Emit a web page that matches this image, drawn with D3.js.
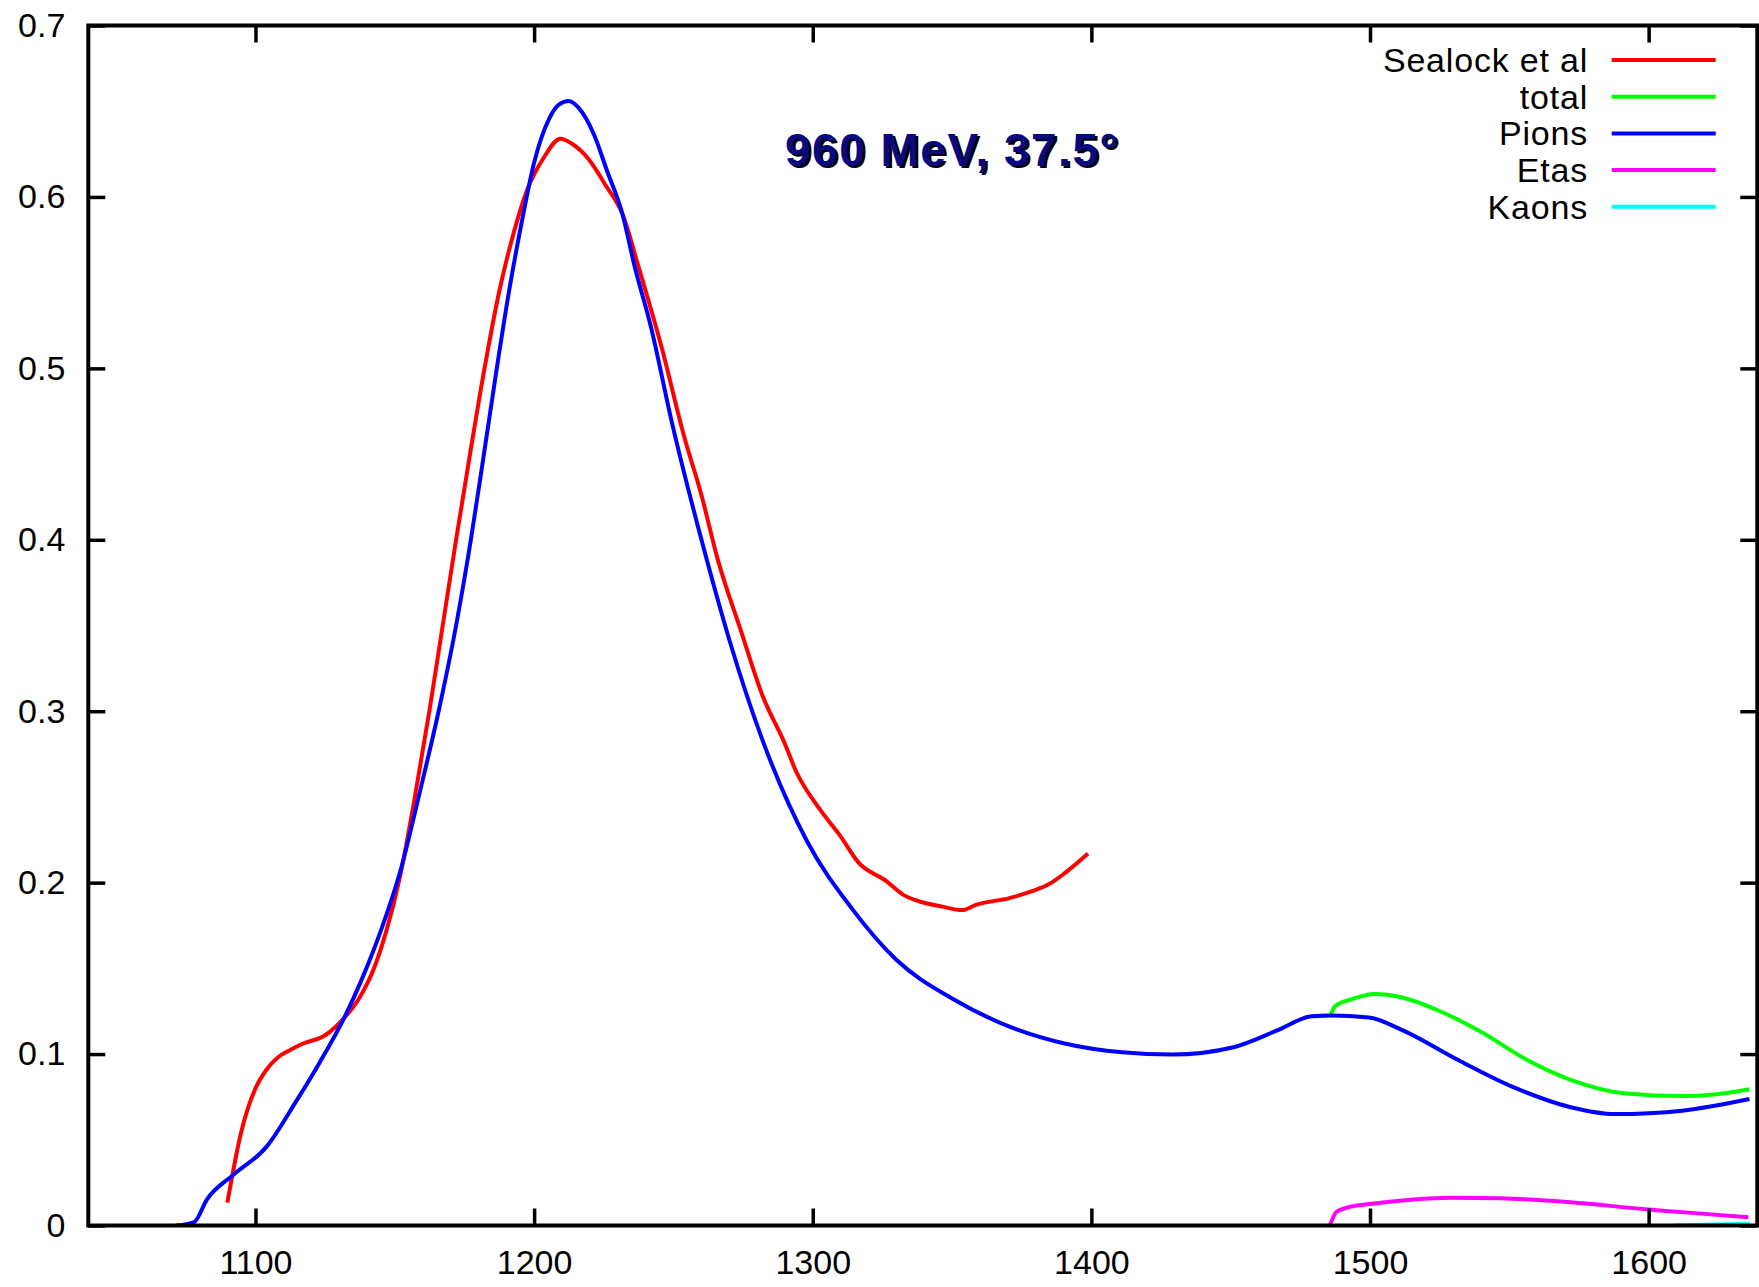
<!DOCTYPE html>
<html><head><meta charset="utf-8">
<script src="https://cdn.jsdelivr.net/npm/d3@7"></script>
<style>body{margin:0;background:#fff}svg{display:block}</style>
</head><body>
<svg id="c" width="1759" height="1287"></svg>
<script>
const xTicks=[1100,1200,1300,1400,1500,1600];
const yTicks=[0,0.1,0.2,0.3,0.4,0.5,0.6,0.7];
const seriesNames=["Sealock et al","total","Pions","Etas","Kaons"];
const seriesColors=["#ff0000","#00ff00","#0000ff","#ff00ff","#00ffff"];
const titleText="960 MeV, 37.5°";

const sealockX=[1089.9,1094.8,1100,1104,1108,1112,1116.9,1125,1131.8,1137,1143,1147,1151.8,1157,1162.4,1167.2,1172,1177,1182.2,1187.5,1192,1197.5,1203.5,1209.5,1213.6,1219.6,1225.6,1231.7,1237.7,1245.8,1253.9,1259.9,1266,1274,1282,1290,1294,1302,1310,1316.3,1326.3,1332.4,1338.4,1346.5,1353.7,1358.5,1370.6,1378.7,1384.7,1390.8,1398.8];
const sealockY=[0.0133,0.054,0.080,0.091,0.098,0.102,0.106,0.111,0.121,0.132,0.152,0.172,0.203,0.248,0.3,0.35,0.4,0.45,0.5,0.545,0.575,0.604,0.623,0.634,0.631,0.622,0.607,0.590,0.558,0.512,0.460,0.427,0.388,0.348,0.309,0.281,0.265,0.244,0.227,0.212,0.201,0.193,0.189,0.186,0.184,0.187,0.191,0.195,0.199,0.206,0.217];

const totalX=[1479,1485.4,1487.5,1493.5,1501.5,1511.6,1523.7,1539.8,1555.9,1572,1592,1612,1624.4,1636.2];
const totalY=[0.122,0.1225,0.128,0.132,0.135,0.133,0.126,0.113,0.097,0.085,0.077,0.0755,0.0766,0.0795];

const pionsX=[1071.5,1078,1082.5,1092,1104,1114.8,1123,1131.8,1138,1145,1152.2,1159,1166,1172,1177.3,1182,1186.6,1191,1195.4,1200,1205.5,1209,1212.4,1216,1221.6,1226,1231.7,1236,1241.8,1249.8,1259.9,1270,1282,1298,1314,1330,1350.5,1370.6,1390.8,1411,1429,1451,1467,1479,1486,1499.5,1511.6,1531.8,1551.9,1572,1588,1600,1612,1636.2];
const pionsY=[0,0.002,0.015,0.0295,0.046,0.073,0.095,0.121,0.143,0.172,0.208,0.253,0.302,0.35,0.4,0.45,0.5,0.545,0.584,0.62,0.646,0.654,0.656,0.652,0.636,0.616,0.59,0.56,0.525,0.466,0.401,0.342,0.283,0.224,0.185,0.155,0.132,0.116,0.106,0.101,0.0997,0.104,0.114,0.122,0.1225,0.1214,0.114,0.0964,0.0804,0.069,0.065,0.0655,0.067,0.0738];

const etasX=[1485.6,1488,1492,1500,1515.6,1528.8,1546.8,1572,1600,1612,1635.8];
const etasY=[0,0.008,0.0105,0.0125,0.0152,0.0162,0.0159,0.0136,0.0093,0.0078,0.0048];

const kaonsX=[1609,1620,1636.2];
const kaonsY=[0,0.0005,0.001];

const L=88.3,R=1757.3,T=25.5,B=1225.5;
const x=d3.scaleLinear().domain([1040,1639]).range([L,R]);
const y=d3.scaleLinear().domain([0,0.7]).range([B,T]);
const svg=d3.select("#c");
const font="'Liberation Sans', Arial, sans-serif";

svg.append("defs").append("clipPath").attr("id","clip").append("rect")
  .attr("x",L).attr("y",T).attr("width",R-L).attr("height",B-T);

const series=[[sealockX,sealockY],[totalX,totalY],[pionsX,pionsY],[etasX,etasY],[kaonsX,kaonsY]];
const g=svg.append("g").attr("clip-path","url(#clip)");
series.forEach((s,i)=>{
  const pts=s[0].map((v,j)=>[v,s[1][j]]);
  const line=d3.line().x(d=>x(d[0])).y(d=>y(d[1])).curve(d3.curveMonotoneX);
  g.append("path").datum(pts).attr("d",line).attr("fill","none")
    .attr("stroke",seriesColors[i]).attr("stroke-width",4).attr("stroke-linejoin","round");
});

function styleAxis(sel){
  sel.select(".domain").remove();
  sel.selectAll(".tick line").attr("stroke","#000").attr("stroke-width",3.5);
  sel.selectAll(".tick text").attr("font-family",font).attr("font-size",34).attr("fill","#000");
}
const ax=svg.append("g").attr("transform",`translate(0,${B})`)
  .call(d3.axisBottom(x).tickValues(xTicks).tickSizeInner(-17).tickSizeOuter(0).tickPadding(24).tickFormat(d3.format("d")));
styleAxis(ax);
const axT=svg.append("g").attr("transform",`translate(0,${T})`)
  .call(d3.axisTop(x).tickValues(xTicks).tickSizeInner(-17).tickSizeOuter(0).tickFormat(""));
styleAxis(axT);
const ay=svg.append("g").attr("transform",`translate(${L},0)`)
  .call(d3.axisLeft(y).tickValues(yTicks).tickSizeInner(-17).tickSizeOuter(0).tickPadding(23).tickFormat(d=>d===0?"0":d3.format(".1f")(d)));
styleAxis(ay);
const ayR=svg.append("g").attr("transform",`translate(${R},0)`)
  .call(d3.axisRight(y).tickValues(yTicks).tickSizeInner(-17).tickSizeOuter(0).tickFormat(""));
styleAxis(ayR);

svg.append("rect").attr("x",L).attr("y",T).attr("width",R-L).attr("height",B-T)
  .attr("fill","none").attr("stroke","#000").attr("stroke-width",4);

// legend
const lg=svg.append("g");
seriesNames.forEach((n,i)=>{
  const yy=60+i*36.7;
  lg.append("text").attr("x",1588).attr("y",yy).attr("dy","0.35em").attr("text-anchor","end")
    .attr("font-family",font).attr("font-size",34).attr("letter-spacing",0.8).text(n);
  lg.append("line").attr("x1",1611.7).attr("x2",1715.7).attr("y1",yy).attr("y2",yy)
    .attr("stroke",seriesColors[i]).attr("stroke-width",4);
});

// title with shadow
svg.append("text").attr("x",787.5).attr("y",168).attr("font-family",font).attr("font-weight","bold")
  .attr("font-size",46).attr("letter-spacing",1.5).attr("fill","#000").text(titleText);
svg.append("text").attr("x",785).attr("y",165.5).attr("font-family",font).attr("font-weight","bold")
  .attr("font-size",46).attr("letter-spacing",1.5).attr("fill","#0a0a80").text(titleText);
</script>
</body></html>
